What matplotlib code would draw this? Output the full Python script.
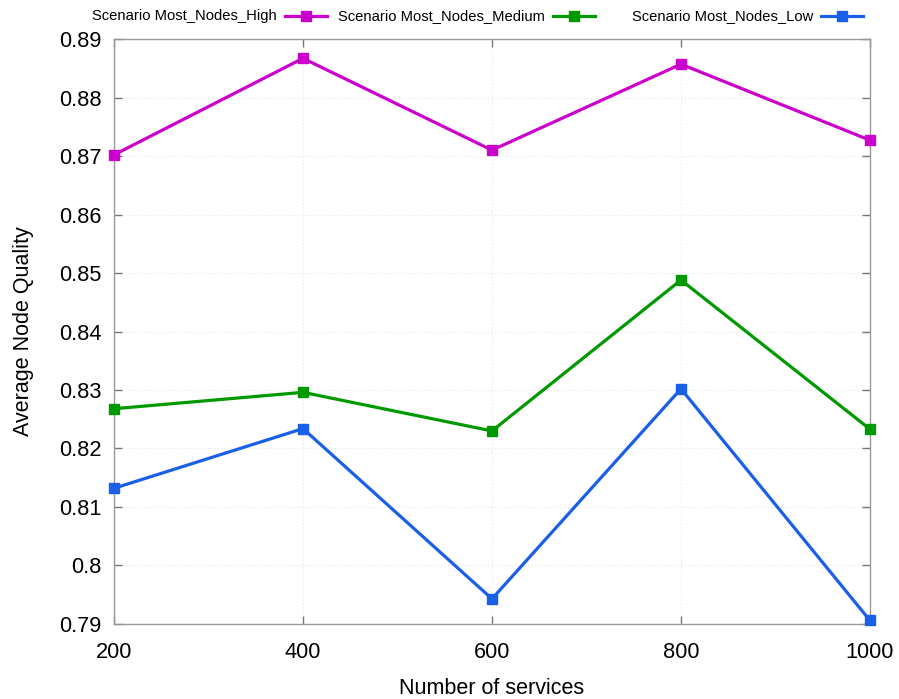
import matplotlib.pyplot as plt
from matplotlib.lines import Line2D
from matplotlib.ticker import FuncFormatter

# number of services per run
services = [200, 400, 600, 800, 1000]

# average node quality per scenario
quality_high = [0.8702, 0.8867, 0.8710, 0.8857, 0.8727]
quality_medium = [0.8268, 0.8296, 0.8230, 0.8488, 0.8233]
quality_low = [0.8132, 0.8234, 0.7943, 0.8302, 0.7906]

labels = ["Scenario Most_Nodes_High", "Scenario Most_Nodes_Medium", "Scenario Most_Nodes_Low"]
colors = ["#cc00cc", "#009900", "#1a5fe8"]

plt.rcParams['font.family'] = ['Liberation Sans', 'DejaVu Sans']

fig = plt.figure(figsize=(8.99, 6.99), dpi=100)
ax = fig.add_axes([0.1268, 0.1073, 0.8409, 0.8369])

for series, color in zip([quality_high, quality_medium, quality_low], colors):
    ax.plot(services, series, color=color, linewidth=2.3, marker='s',
            markersize=6.5, clip_on=False, zorder=3)

ax.set_xlim(200, 1000)
ax.set_ylim(0.79, 0.89)
ax.set_xticks(services)
ax.set_yticks([0.79 + 0.01 * i for i in range(11)])
ax.yaxis.set_major_formatter(FuncFormatter(lambda v, p: '%g' % round(v, 2)))

ax.grid(True, color='#e6e6e6', linestyle=(0, (1, 2)), linewidth=0.8)
for spine in ax.spines.values():
    spine.set_color('#999999')
    spine.set_linewidth(1.0)
ax.tick_params(direction='in', length=6, width=1, color='#777777',
               top=True, right=True, labelsize=15.7)
ax.tick_params(axis='x', pad=13)
ax.tick_params(axis='y', pad=9)

ax.set_xlabel("Number of services", fontsize=15.5, labelpad=10.5)
ax.set_ylabel("Average Node Quality", fontsize=15.5, labelpad=18)

# key above the plot: text right-aligned, line sample to its right
key_y = 1 - 16 / 699
text_right = [277, 545, 813]
for label, color, xr in zip(labels, colors, text_right):
    fig.text(xr / 899, key_y, label, ha='right', va='center', fontsize=10.6)
    x0 = (xr + 8) / 899
    x1 = (xr + 50) / 899
    fig.add_artist(Line2D([x0, x1], [key_y, key_y], color=color, linewidth=2.3,
                          transform=fig.transFigure))
    fig.add_artist(Line2D([(x0 + x1) / 2], [key_y], color=color, marker='s',
                          markersize=6.5, transform=fig.transFigure))

fig.savefig("out.png", dpi=100)
